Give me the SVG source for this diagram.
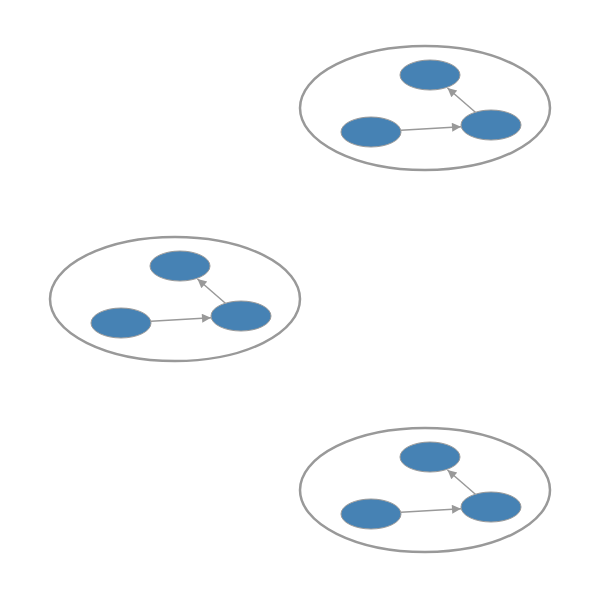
<svg xmlns="http://www.w3.org/2000/svg" width="600" height="600" viewBox="0 0 600 600">
<style>
.cluster{fill:none;stroke:#999;stroke-width:2.5}
.node{fill:#4682b4;stroke:#999;stroke-width:1}
.edge{fill:none;stroke:#999;stroke-width:1.5}
</style>
<defs>
<marker id="arr" viewBox="0 0 10 10" refX="10" refY="5" markerWidth="12" markerHeight="9" markerUnits="userSpaceOnUse" orient="auto">
<path d="M0,0 L10,5 L0,10 z" fill="#999"/>
</marker>
</defs>
<rect width="600" height="600" fill="#fff"/>
<g id="cluster1">
<ellipse class="cluster" cx="425" cy="108" rx="125" ry="62"/>
<g id="n1a"><ellipse class="node" cx="430" cy="75" rx="30" ry="15"/></g>
<g id="n1b"><ellipse class="node" cx="371" cy="132" rx="30" ry="15"/></g>
<g id="n1c"><ellipse class="node" cx="491" cy="125" rx="30" ry="15"/></g>
</g>
<g id="cluster2">
<ellipse class="cluster" cx="175" cy="299" rx="125" ry="62"/>
<g id="n2a"><ellipse class="node" cx="180" cy="266" rx="30" ry="15"/></g>
<g id="n2b"><ellipse class="node" cx="121" cy="323" rx="30" ry="15"/></g>
<g id="n2c"><ellipse class="node" cx="241" cy="316" rx="30" ry="15"/></g>
</g>
<g id="cluster3">
<ellipse class="cluster" cx="425" cy="490" rx="125" ry="62"/>
<g id="n3a"><ellipse class="node" cx="430" cy="457" rx="30" ry="15"/></g>
<g id="n3b"><ellipse class="node" cx="371" cy="514" rx="30" ry="15"/></g>
<g id="n3c"><ellipse class="node" cx="491" cy="507" rx="30" ry="15"/></g>
</g>
<g id="connectors">
<line class="edge" x1="401" y1="130.3" x2="461" y2="126.8" marker-end="url(#arr)"/>
<line class="edge" x1="475.4" y1="112.2" x2="447.5" y2="88" marker-end="url(#arr)"/>
<line class="edge" x1="151" y1="321.3" x2="211" y2="317.8" marker-end="url(#arr)"/>
<line class="edge" x1="225.4" y1="303.2" x2="197.5" y2="279" marker-end="url(#arr)"/>
<line class="edge" x1="401" y1="512.3" x2="461" y2="508.8" marker-end="url(#arr)"/>
<line class="edge" x1="475.4" y1="494.2" x2="447.5" y2="470" marker-end="url(#arr)"/>
</g>
</svg>
